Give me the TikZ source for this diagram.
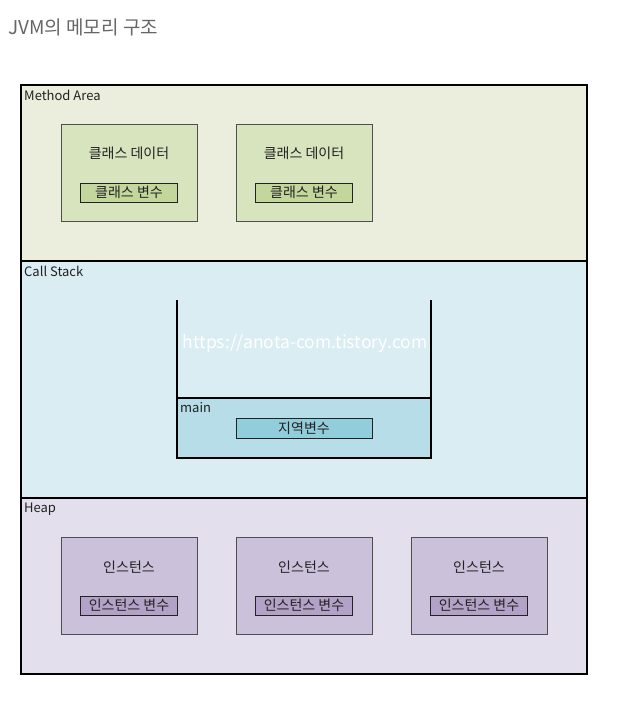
\documentclass[tikz,border=0pt]{standalone}
\usepackage{fontspec}
\setmainfont{Noto Sans CJK KR}
\usetikzlibrary{positioning}
\definecolor{TitleGray}{HTML}{666666}
\definecolor{Ink}{HTML}{222222}
\definecolor{MethodBg}{HTML}{EBEEDD}
\definecolor{ClassBg}{HTML}{D7E4BD}
\definecolor{ClassVar}{HTML}{C3D69B}
\definecolor{StackBg}{HTML}{DAEDF3}
\definecolor{MainBg}{HTML}{B7DDE8}
\definecolor{LocalVar}{HTML}{92CDDC}
\definecolor{HeapBg}{HTML}{E4DFEC}
\definecolor{InstBg}{HTML}{CCC1DA}
\definecolor{InstVar}{HTML}{B3A2C7}
\tikzset{area/.style={draw=black,line width=1.6pt,anchor=north west,inner sep=0pt,outer sep=0pt,minimum width=566pt},arealabel/.style={anchor=north west,inner sep=0pt,text=Ink,font=\fontsize{13}{15}\selectfont},obj/.style={draw=Ink!80,line width=.9pt,anchor=north west,inner sep=0pt,outer sep=0pt,minimum width=136pt,minimum height=97pt},objtitle/.style={text=Ink,font=\fontsize{14}{16}\selectfont},var/.style={draw=Ink,line width=.9pt,inner sep=0pt,outer sep=0pt,minimum width=97pt,minimum height=19pt,text=Ink,font=\fontsize{14}{16}\selectfont},wall/.style={line width=1.6pt,draw=black},watermark/.style={font=\fontsize{17.5}{20}\selectfont}}
\begin{document}
\begin{tikzpicture}[x=1pt,y=-1pt]
  \useasboundingbox[fill=white] (0,0) rectangle (618,707);
  \node[anchor=west,inner sep=0pt,text=TitleGray,font=\fontsize{19}{22}\selectfont] (title) at (8,27) {JVM의 메모리 구조};
  % memory areas
  \node[area,fill=MethodBg,minimum height=176pt] (method) at (21,85) {};
  \node[area,fill=StackBg,minimum height=237pt] (stack) at (21,261) {};
  \node[area,fill=HeapBg,minimum height=176pt] (heap) at (21,498) {};
  \node[arealabel] (methodl) at ([xshift=3pt,yshift=-4.5pt]method.north west) {Method Area};
  \node[arealabel] (stackl) at ([xshift=3pt,yshift=-4.5pt]stack.north west) {Call Stack};
  \node[arealabel] (heapl) at ([xshift=3pt,yshift=-4.5pt]heap.north west) {Heap};
  % method area
  \node[obj,fill=ClassBg] (cls1) at (61,124) {};
  \node[obj,fill=ClassBg] (cls2) at (236,124) {};
  \node[objtitle] (cls1t) at ([yshift=-29pt]cls1.north) {클래스 데이터};
  \node[objtitle] (cls2t) at ([yshift=-29pt]cls2.north) {클래스 데이터};
  \node[var,fill=ClassVar] (cls1v) at ([yshift=-68.5pt]cls1.north) {클래스 변수};
  \node[var,fill=ClassVar] (cls2v) at ([yshift=-68.5pt]cls2.north) {클래스 변수};
  % call stack
  \node[draw=black,line width=1.6pt,anchor=north west,inner sep=0pt,outer sep=0pt,fill=MainBg,minimum width=254pt,minimum height=60pt] (main) at (177,398) {};
  \coordinate (wallL) at (177,300);
  \coordinate (wallR) at (431,300);
  \draw[wall] (wallL) -- (main.north west);
  \draw[wall] (wallR) -- (main.north east);
  \node[arealabel] (mainl) at ([xshift=3pt,yshift=-4.5pt]main.north west) {main};
  \node[var,fill=LocalVar,minimum width=136pt,minimum height=20pt] (local) at ([yshift=-30pt]main.north) {지역변수};
  \node[watermark,text=white] (wmark) at (305,344) {https://anota-com.tistory.com};
  % heap
  \node[obj,fill=InstBg] (inst1) at (61,537) {};
  \node[obj,fill=InstBg] (inst2) at (236,537) {};
  \node[obj,fill=InstBg] (inst3) at (411,537) {};
  \node[objtitle] (inst1t) at ([yshift=-30pt]inst1.north) {인스턴스};
  \node[objtitle] (inst2t) at ([yshift=-30pt]inst2.north) {인스턴스};
  \node[objtitle] (inst3t) at ([yshift=-30pt]inst3.north) {인스턴스};
  \node[var,fill=InstVar] (inst1v) at ([yshift=-68.5pt]inst1.north) {인스턴스 변수};
  \node[var,fill=InstVar] (inst2v) at ([yshift=-68.5pt]inst2.north) {인스턴스 변수};
  \node[var,fill=InstVar] (inst3v) at ([yshift=-68.5pt]inst3.north) {인스턴스 변수};
\end{tikzpicture}
\end{document}
